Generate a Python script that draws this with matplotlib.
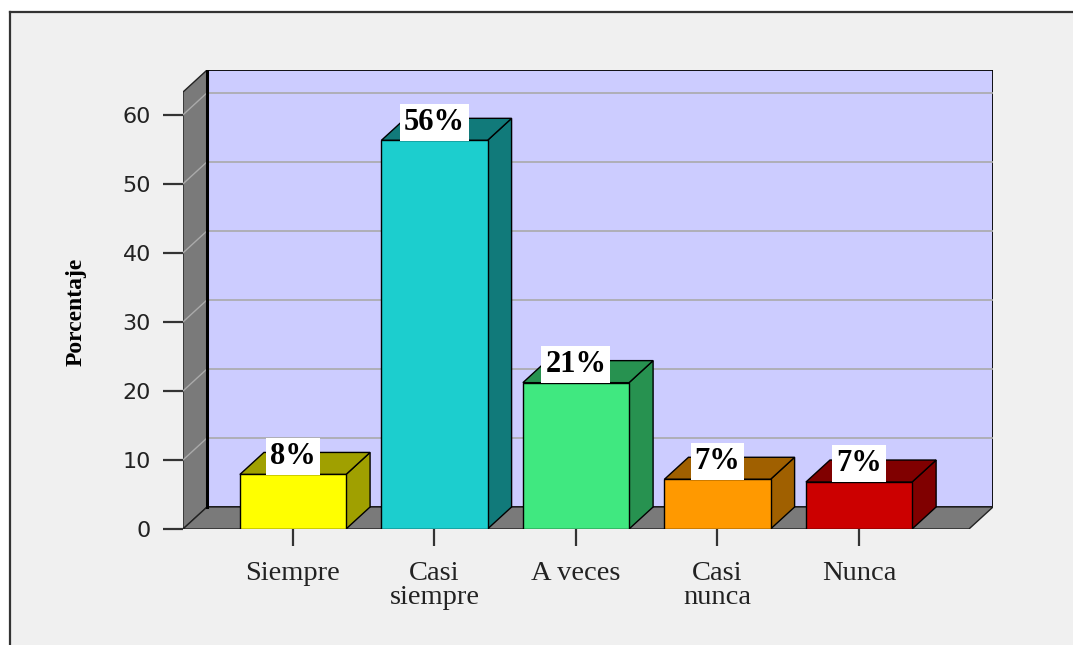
import matplotlib
matplotlib.use("Agg")
import matplotlib.pyplot as plt
from matplotlib.patches import Polygon, Rectangle
from matplotlib.lines import Line2D

# ---- data ----
categories = ["Siempre", "Casi\nsiempre", "A veces", "Casi\nnunca", "Nunca"]
values = [7.9, 56.3, 21.2, 7.2, 6.8]
labels = ["8%", "56%", "21%", "7%", "7%"]
front_colors = ["#FFFF00", "#1CCECE", "#40E880", "#FF9900", "#CC0000"]
side_colors = ["#A0A000", "#117A7A", "#279250", "#A06000", "#800000"]
yticks = [0, 10, 20, 30, 40, 50, 60]

W, H, DPI = 1073, 645, 100
fig = plt.figure(figsize=(W / DPI, H / DPI), dpi=DPI, facecolor="white")

# outer frame (panel background)
fig.patches.append(Rectangle((10 / W, 0), 1 - 10 / W, 1 - 12 / H, transform=fig.transFigure,
                             facecolor="#F0F0F0", edgecolor="none", zorder=-5))
fig.lines.append(Line2D([10 / W, 10 / W], [0, 1 - 12 / H], transform=fig.transFigure,
                        color="#333333", lw=1.6, zorder=-4))
fig.lines.append(Line2D([10 / W, 1], [1 - 12 / H, 1 - 12 / H], transform=fig.transFigure,
                        color="#333333", lw=1.6, zorder=-4))

# geometry in data units
x0 = -0.777          # front-left of floor
xf = 4.777           # front-right of floor
dx = 0.17            # depth offset (category units)
dy = 3.19            # depth offset (value units)
ytop = 63.3
bw = 0.75

left_px, right_px, bottom_px, top_px = 183, 993, 529, 70
ax = fig.add_axes([left_px / W, 1 - bottom_px / H, (right_px - left_px) / W,
                   (bottom_px - top_px) / H])
ax.set_zorder(2)
ax.set_xlim(x0, xf + dx)
ax.set_ylim(0, ytop + dy)
ax.patch.set_visible(False)
for s in ax.spines.values():
    s.set_visible(False)

# back wall
ax.add_patch(Rectangle((x0 + dx, dy), xf - x0, ytop, facecolor="#CCCCFF",
                       edgecolor="black", lw=1.3, zorder=1))
# left wall
ax.add_patch(Polygon([(x0, 0), (x0 + dx, dy), (x0 + dx, ytop + dy), (x0, ytop)],
                     closed=True, facecolor="#7A7A7A", edgecolor="#222222", lw=1.0, zorder=1))
# floor
ax.add_patch(Polygon([(x0, 0), (xf, 0), (xf + dx, dy), (x0 + dx, dy)],
                     closed=True, facecolor="#7A7A7A", edgecolor="#222222", lw=1.0, zorder=1))
# thick edge where back wall meets left wall
ax.plot([x0 + dx, x0 + dx], [dy, ytop + dy], color="black", lw=2.2, zorder=2)

# grid lines
for t in yticks[1:]:
    ax.plot([x0 + dx, xf + dx], [t + dy, t + dy], color="#AAAAAA", lw=1.2, zorder=1.5)
    ax.plot([x0, x0 + dx], [t, t + dy], color="#AAAAAA", lw=1.0, zorder=1.5)

# bars
for i, (v, fc, sc) in enumerate(zip(values, front_colors, side_colors)):
    l, r = i - bw / 2, i + bw / 2
    ax.add_patch(Polygon([(r, 0), (r + dx, dy), (r + dx, v + dy), (r, v)], closed=True,
                         facecolor=sc, edgecolor="black", lw=1.0, zorder=3))
    ax.add_patch(Polygon([(l, v), (r, v), (r + dx, v + dy), (l + dx, v + dy)], closed=True,
                         facecolor=sc, edgecolor="black", lw=1.0, zorder=3))
    ax.add_patch(Rectangle((l, 0), bw, v, facecolor=fc, edgecolor="black", lw=1.0, zorder=4))

# value labels
for i, (v, lab) in enumerate(zip(values, labels)):
    ax.annotate(lab, (i, v), xytext=(0, 2.6), textcoords="offset points",
                ha="center", va="bottom", fontsize=22, fontweight="bold",
                family="Liberation Serif", color="black", zorder=6,
                bbox=dict(boxstyle="square,pad=0.13", facecolor="white", edgecolor="none"))

# ticks
ax.set_yticks(yticks)
ax.set_yticklabels([str(t) for t in yticks], family="DejaVu Sans", fontsize=16, color="#222222")
ax.tick_params(axis="y", direction="out", length=14.4, width=1.6, pad=8.6, color="#333333")
ax.set_xticks(range(len(categories)))
ax.set_xticklabels(categories, family="Liberation Serif", fontsize=20.5, color="#222222",
                   linespacing=0.95)
ax.tick_params(axis="x", direction="out", length=12.2, width=1.6, pad=10.5, color="#333333")

fig.text(76 / W, 1 - 312 / H, "Porcentaje", rotation=90, ha="center", va="center",
         family="Liberation Serif", fontweight="bold", fontsize=17, color="black")

fig.savefig("out.png", dpi=DPI, facecolor=fig.get_facecolor())
